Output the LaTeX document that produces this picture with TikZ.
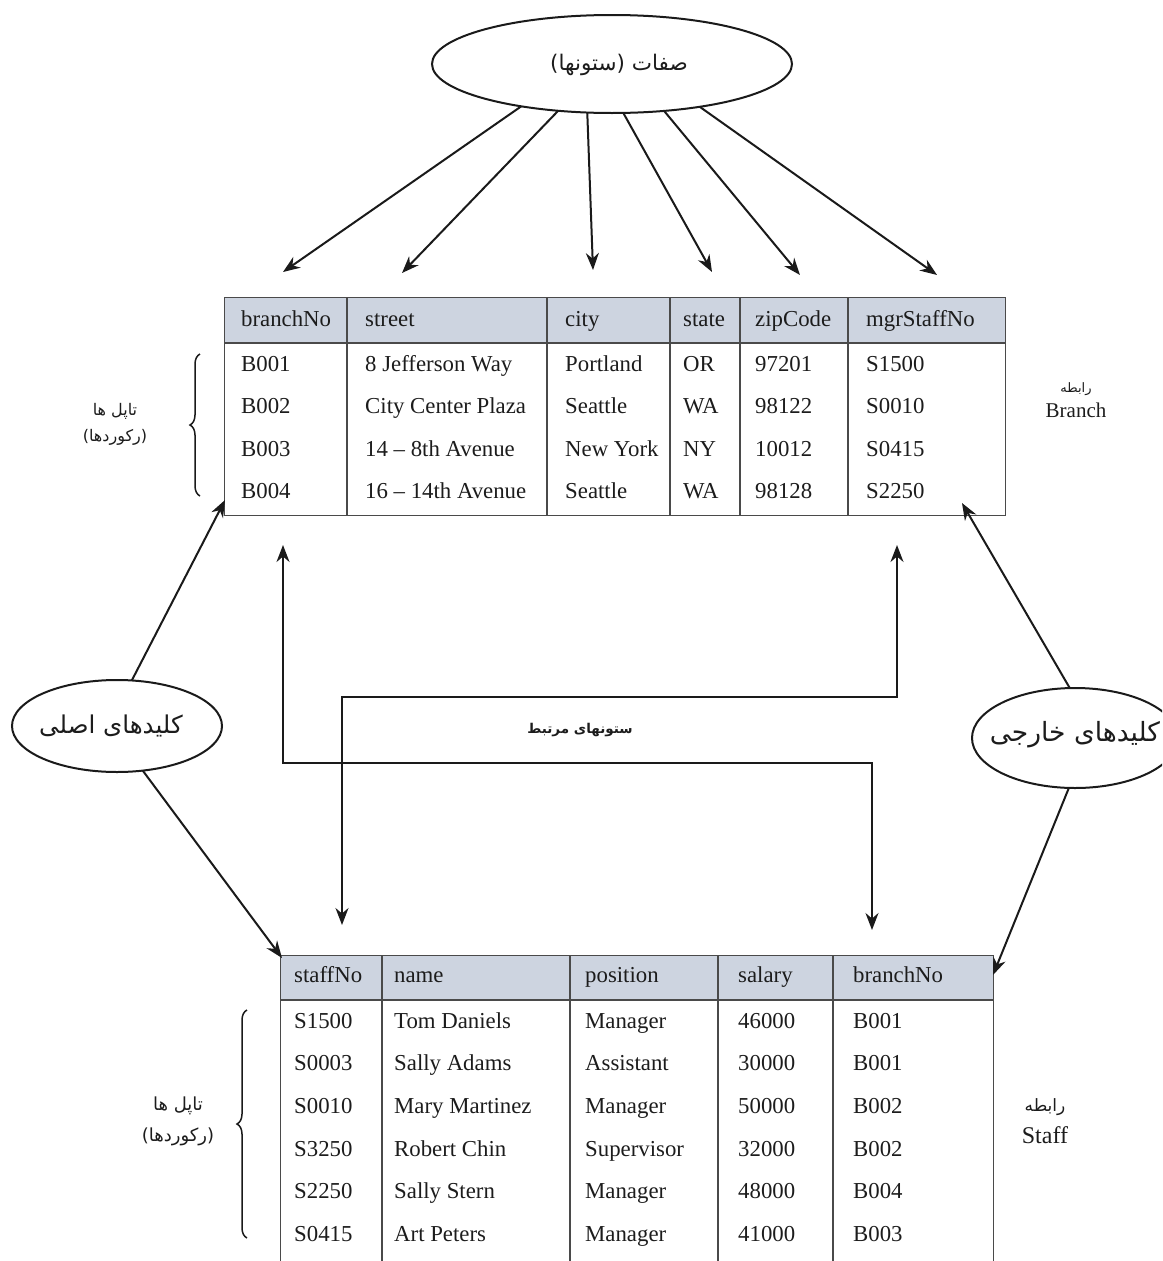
\documentclass[tikz,border=0pt]{standalone}
\usepackage{fontspec}
\setmainfont{Liberation Serif}
\newfontfamily\arabicfont[Script=Arabic]{DejaVu Sans}
\TeXXeTstate=1
\usetikzlibrary{arrows.meta,decorations.pathreplacing,shapes.geometric}
\definecolor{hdr}{HTML}{CDD4E0}
\definecolor{bord}{HTML}{4A4A4A}
\definecolor{txt}{HTML}{1C1C1C}
\definecolor{ink}{HTML}{1A1A1A}
\begin{document}
\begin{tikzpicture}[x=1pt,y=-1pt,
  cell/.style={inner sep=0pt, anchor=mid west, font=\fontsize{22.8}{26}\selectfont, text=txt},
  tbl/.style={draw=bord, line width=1.2pt, inner sep=0pt, anchor=north west},
  sep/.style={draw=bord, line width=1.1pt},
  oval/.style={ellipse, draw=ink, line width=2pt, inner sep=0pt, outer sep=0pt},
  arr/.style={draw=ink, line width=2pt, -{Stealth[length=17pt,width=13pt]}},
  arrb/.style={draw=ink, line width=2pt, {Stealth[length=17pt,width=13pt]}-{Stealth[length=17pt,width=13pt]}},
  lbl/.style={inner sep=0pt, align=center, text=txt},
  brc/.style={draw=ink, line width=1.5pt, decorate, decoration={brace, amplitude=10pt}}]
\useasboundingbox (0,0) rectangle (1162,1261);
\clip (0,0) rectangle (1162,1261);

% ---------- Branch table ----------
\fill[hdr] (224,297) rectangle (1005,343);
\node[tbl, minimum width=781pt, minimum height=218pt] (branch) at (224,297) {};
\draw[sep] (224,343) -- (1005,343);
\foreach \cx in {347,547,670,740,848} \draw[sep] (\cx,297) -- (\cx,515);
\foreach \t/\x [count=\i] in {branchNo/241,street/365,city/565,state/683,zipCode/755,mgrStaffNo/866}
  \node[cell] (bh\i) at (\x,324) {\t};
\foreach \a/\b/\c/\d/\e/\f [count=\r] in {B001/8 Jefferson Way/Portland/OR/97201/S1500,
    B002/City Center Plaza/Seattle/WA/98122/S0010,
    B003/14 – 8th Avenue/New York/NY/10012/S0415,
    B004/16 – 14th Avenue/Seattle/WA/98128/S2250}{
  \pgfmathsetmacro\yy{369+(\r-1)*42.4}
  \node[cell] (b\r-1) at (241,\yy) {\a};
  \node[cell] (b\r-2) at (365,\yy) {\b};
  \node[cell] (b\r-3) at (565,\yy) {\c};
  \node[cell] (b\r-4) at (683,\yy) {\d};
  \node[cell] (b\r-5) at (755,\yy) {\e};
  \node[cell] (b\r-6) at (866,\yy) {\f};
}

% ---------- Staff table ----------
\fill[hdr] (280,955) rectangle (993,1000);
\node[tbl, minimum width=713pt, minimum height=320pt] (staff) at (280,955) {};
\draw[sep] (280,1000) -- (993,1000);
\foreach \cx in {382,570,718,833} \draw[sep] (\cx,955) -- (\cx,1275);
\foreach \t/\x [count=\i] in {staffNo/294,name/394,position/585,salary/738,branchNo/853}
  \node[cell] (sh\i) at (\x,980) {\t};
\foreach \a/\b/\c/\d/\e [count=\r] in {S1500/Tom Daniels/Manager/46000/B001,
    S0003/Sally Adams/Assistant/30000/B001,
    S0010/Mary Martinez/Manager/50000/B002,
    S3250/Robert Chin/Supervisor/32000/B002,
    S2250/Sally Stern/Manager/48000/B004,
    S0415/Art Peters/Manager/41000/B003}{
  \pgfmathsetmacro\yy{1026+(\r-1)*42.6}
  \node[cell] (s\r-1) at (294,\yy) {\a};
  \node[cell] (s\r-2) at (394,\yy) {\b};
  \node[cell] (s\r-3) at (585,\yy) {\c};
  \node[cell] (s\r-4) at (738,\yy) {\d};
  \node[cell] (s\r-5) at (853,\yy) {\e};
}

% ---------- ellipses ----------
\node[oval, minimum width=360pt, minimum height=98pt] (attr) at (612,64) {};
\node[lbl, font=\arabicfont\fontsize{21.5}{26}\selectfont] (attrt) at (619,65) {\beginR صفات (ستونها)\endR};
\node[oval, minimum width=210pt, minimum height=92pt] (pk) at (117,726) {};
\node[lbl, font=\arabicfont\fontsize{24.5}{30}\selectfont] (pkt) at (111,726) {\beginR کلیدهای اصلی\endR};
\node[oval, minimum width=206pt, minimum height=100pt] (fk) at (1075,738) {};
\node[lbl, font=\arabicfont\fontsize{26.5}{30}\selectfont] (fkt) at (1075,735) {\beginR کلیدهای خارجی\endR};

% ---------- column arrows ----------
\coordinate (t1) at (283,272);
\coordinate (t2) at (402,273);
\coordinate (t3) at (593,270);
\coordinate (t4) at (712,272);
\coordinate (t5) at (800,275);
\coordinate (t6) at (937,275);
\draw[arr] (attr.205.6) -- (t1);
\draw[arr] (attr.221) -- (t2);
\draw[arr] (attr.243) -- (t3);
\draw[arr] (attr.283) -- (t4);
\draw[arr] (attr.318) -- (t5);
\draw[arr] (attr.334) -- (t6);

% ---------- key arrows ----------
\coordinate (pkb) at (225,500);
\coordinate (pks) at (282,958);
\coordinate (fkb) at (962,503);
\coordinate (fks) at (993,975);
\draw[arr] (pk.72) -- (pkb);
\draw[arr] (pk.300) -- (pks);
\draw[arr] (fk.96) -- (fkb);
\draw[arr] (fk.263) -- (fks);

% ---------- related columns ----------
\coordinate (c1a) at (283,545);
\coordinate (c1b) at (283,763);
\coordinate (c1c) at (872,763);
\coordinate (c1d) at (872,930);
\draw[arrb] (c1a) -- (c1b) -- (c1c) -- (c1d);
\coordinate (c2a) at (897,545);
\coordinate (c2b) at (897,697);
\coordinate (c2c) at (342,697);
\coordinate (c2d) at (342,925);
\draw[arrb] (c2a) -- (c2b) -- (c2c) -- (c2d);
\node[lbl, font=\arabicfont\bfseries\fontsize{13.5}{17}\selectfont] (rel) at (580,730) {\beginR ستونهای مرتبط\endR};

% ---------- braces and labels ----------
\coordinate (br1b) at (200,496);
\coordinate (br1t) at (200,354);
\draw[brc] (br1b) -- (br1t);
\node[lbl, font=\arabicfont\fontsize{16}{26}\selectfont] (tup1) at (115,424) {\beginR تاپل ها\endR\\\beginR(رکوردها)\endR};
\coordinate (br2b) at (247,1238);
\coordinate (br2t) at (247,1010);
\draw[brc] (br2b) -- (br2t);
\node[lbl, font=\arabicfont\fontsize{18}{31}\selectfont] (tup2) at (178,1121) {\beginR تاپل ها\endR\\\beginR(رکوردها)\endR};

\node[lbl, font=\fontsize{21}{25}\selectfont] (relB) at (1076,400) {{\arabicfont\fontsize{13}{17}\selectfont\beginR رابطه\endR}\\Branch};
\node[lbl, font=\fontsize{24}{32}\selectfont] (relS) at (1045,1121) {{\arabicfont\fontsize{17}{20}\selectfont\beginR رابطه\endR}\\Staff};
\end{tikzpicture}
\end{document}
